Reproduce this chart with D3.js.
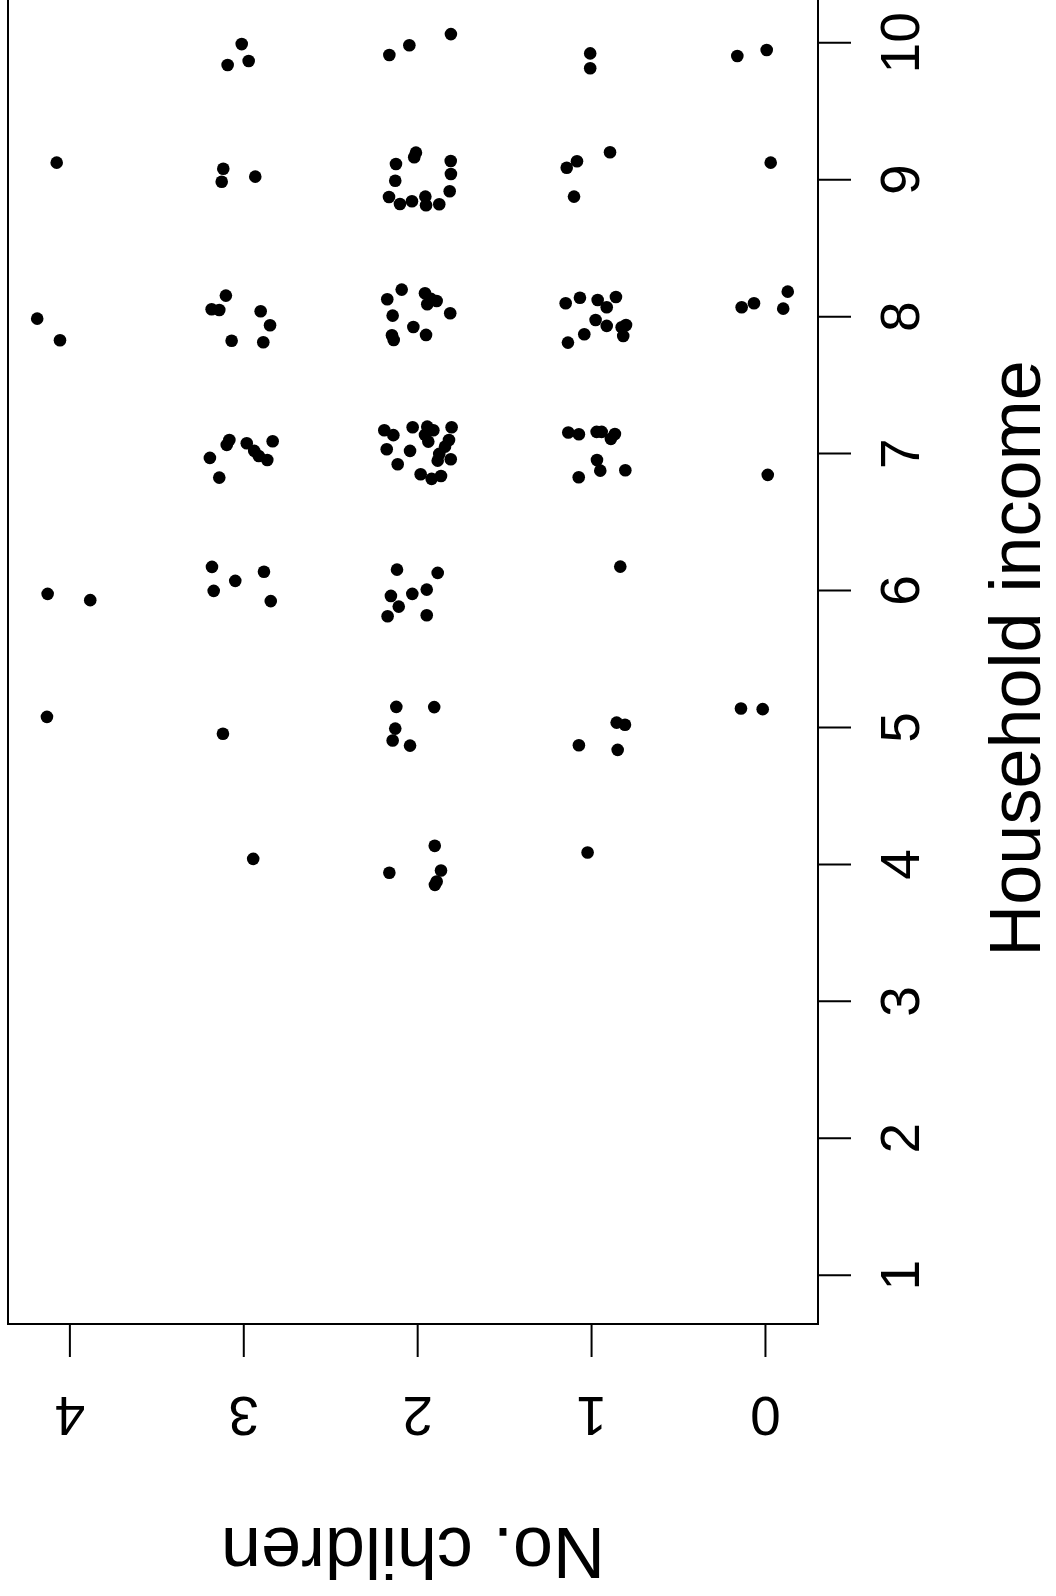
<!DOCTYPE html>
<html>
<head>
<meta charset="utf-8">
<script src="https://cdn.jsdelivr.net/npm/d3@7"></script>
<style>
  html, body { margin: 0; padding: 0; background: #fff; }
  svg { display: block; }
  text { font-family: "Liberation Sans", Arial, Helvetica, sans-serif; fill: #000; }
</style>
</head>
<body>
<script>
// Jittered household income (x) and number of children (y), one entry per household
const income = [
  // income 10
  9.987, 9.834, 9.863, 9.907, 9.978, 10.060, 9.919, 9.810, 9.900, 9.944,
  // income 9
  9.121, 9.077, 8.982, 9.019,
  9.194, 9.160, 9.111, 9.133, 9.038, 8.989, 8.912, 8.870, 8.819, 8.839, 8.873, 8.810, 8.817,
  9.197, 9.131, 9.084, 8.873, 9.121,
  // income 8
  7.982, 7.824,
  8.150, 8.050, 8.045, 8.036, 7.934, 7.821, 7.810,
  8.123, 8.194, 8.167, 8.111, 8.087, 8.126, 8.021, 8.004, 7.921, 7.863, 7.861, 7.826,
  8.094, 8.135, 8.118, 8.065, 8.140, 7.972, 7.929, 7.919, 7.936, 7.855, 7.868, 7.807,
  8.065, 8.094, 8.179, 8.055,
  // income 7
  7.096, 7.060, 6.965, 6.821, 7.072, 7.016, 6.979, 6.950, 7.087,
  7.167, 7.131, 7.189, 7.193, 7.167, 7.133, 7.084, 7.189, 7.096, 7.047, 6.994, 6.945, 6.955,
  7.028, 7.016, 6.919, 6.846, 6.812, 6.833,
  7.150, 7.138, 7.155, 7.155, 7.140, 7.104, 6.950, 6.872, 6.875, 6.824,
  6.841,
  // income 6
  5.972, 5.926,
  6.169, 6.067, 5.994, 6.133, 5.919,
  6.149, 6.125, 6.003, 5.972, 5.957, 5.879, 5.809, 5.816,
  6.171,
  // income 5
  5.074, 4.950,
  5.147, 5.145, 4.988, 4.901, 4.864,
  5.032, 5.016, 4.867, 4.833,
  5.135, 5.130,
  // income 4
  4.037,
  4.132, 3.935, 3.952, 3.871, 3.847,
  4.083
];

const children = [
  // income 10
  3.009, 3.090, 2.969, 2.160, 2.045, 1.806, 1.005, 1.005, 0.159, -0.010,
  // income 9
  4.073, 3.115, 3.124, 2.931,
  2.007, 2.017, 2.122, 1.807, 1.806, 2.126, 1.813, 2.162, 2.099, 2.030, 1.953, 1.949, 1.873,
  0.891, 1.081, 1.140, 1.098, -0.033,
  // income 8
  4.185, 4.054,
  3.100, 3.182, 3.138, 2.900, 2.846, 3.067, 2.885,
  2.172, 2.089, 1.955, 1.888, 1.942, 1.921, 1.810, 2.141, 2.022, 1.949, 2.145, 2.135,
  1.146, 1.064, 0.962, 0.910, 0.857, 0.974, 0.910, 0.824, 0.799, 0.815, 1.039, 1.133,
  0.134, 0.063, -0.131, -0.105,
  // income 7
  3.080, 3.095, 3.192, 3.138, 2.980, 2.937, 2.911, 2.862, 2.831,
  2.189, 2.137, 2.026, 1.942, 1.907, 1.955, 1.936, 1.802, 1.817, 1.840, 1.873, 1.882, 1.807,
  2.175, 2.041, 2.112, 1.980, 1.917, 1.863,
  1.131, 1.070, 0.968, 0.939, 0.863, 0.886, 0.966, 0.947, 0.803, 1.071,
  -0.016,
  // income 6
  4.125, 3.880,
  3.180, 3.046, 3.170, 2.881, 2.842,
  2.116, 1.882, 1.945, 2.028, 2.151, 2.106, 2.170, 1.945,
  0.832,
  // income 5
  4.129, 3.117,
  2.120, 1.902, 2.126, 2.141, 2.041,
  0.853, 0.805, 1.070, 0.847,
  0.138, 0.013,
  // income 4
  2.943,
  1.899, 2.160, 1.863, 1.888, 1.898,
  1.020
];

const incomeTicks = [1, 2, 3, 4, 5, 6, 7, 8, 9, 10];
const childrenTicks = [0, 1, 2, 3, 4];

const xLabel = "Household income";
const yLabel = "No. children";

// The scatterplot is laid out turned a quarter turn: income runs up the right edge,
// number of children runs right-to-left along the bottom.
const W = 1056, H = 1596;
const box = { left: 8, right: 818, top: -7, bottom: 1324 };

const svg = d3.select("body").append("svg")
  .attr("width", W).attr("height", H);

const incScale = d3.scaleLinear()
  .domain([0.64, 10.36])
  .range([box.bottom, box.top]);

const chScale = d3.scaleLinear()
  .domain([-0.305, 4.353])
  .range([box.right, box.left]);

// Points
svg.append("g")
  .selectAll("circle")
  .data(d3.range(income.length))
  .join("circle")
  .attr("cx", i => chScale(children[i]))
  .attr("cy", i => incScale(income[i]))
  .attr("r", 6.3)
  .attr("fill", "#000");

// Income axis along the right edge
const incAxis = d3.axisRight(incScale)
  .tickValues(incomeTicks)
  .tickSize(33)
  .tickFormat(d3.format("d"));

const gInc = svg.append("g")
  .attr("transform", `translate(${box.right},0)`)
  .call(incAxis);
gInc.select(".domain").remove();
gInc.selectAll(".tick line").attr("stroke", "#000").attr("stroke-width", 2);
gInc.selectAll(".tick text")
  .attr("x", null).attr("dy", null)
  .attr("transform", `translate(${919 - box.right},0) rotate(-90)`)
  .attr("text-anchor", "middle")
  .style("font-size", "55px")
  .style("font-family", "'Liberation Sans', Arial, Helvetica, sans-serif")
  .attr("fill", "#000");

// Children axis along the bottom edge
const chAxis = d3.axisBottom(chScale)
  .tickValues(childrenTicks)
  .tickSize(33)
  .tickFormat(d3.format("d"));

const gCh = svg.append("g")
  .attr("transform", `translate(0,${box.bottom})`)
  .call(chAxis);
gCh.select(".domain").remove();
gCh.selectAll(".tick line").attr("stroke", "#000").attr("stroke-width", 2);
gCh.selectAll(".tick text")
  .attr("y", null).attr("dy", null)
  .attr("transform", `translate(0,${1397 - box.bottom}) rotate(180)`)
  .attr("text-anchor", "middle")
  .style("font-size", "55px")
  .style("font-family", "'Liberation Sans', Arial, Helvetica, sans-serif")
  .attr("fill", "#000");

// Plot frame
svg.append("rect")
  .attr("x", box.left).attr("y", box.top)
  .attr("width", box.right - box.left)
  .attr("height", box.bottom - box.top)
  .attr("fill", "none")
  .attr("stroke", "#000")
  .attr("stroke-width", 2);

// Axis titles
svg.append("text")
  .attr("transform", `translate(1040,${(box.top + box.bottom) / 2}) rotate(-90)`)
  .attr("text-anchor", "middle")
  .style("font-size", "72px")
  .text(xLabel);

svg.append("text")
  .attr("transform", `translate(${(box.left + box.right) / 2},1528) rotate(180)`)
  .attr("text-anchor", "middle")
  .style("font-size", "72px")
  .text(yLabel);
</script>
</body>
</html>
